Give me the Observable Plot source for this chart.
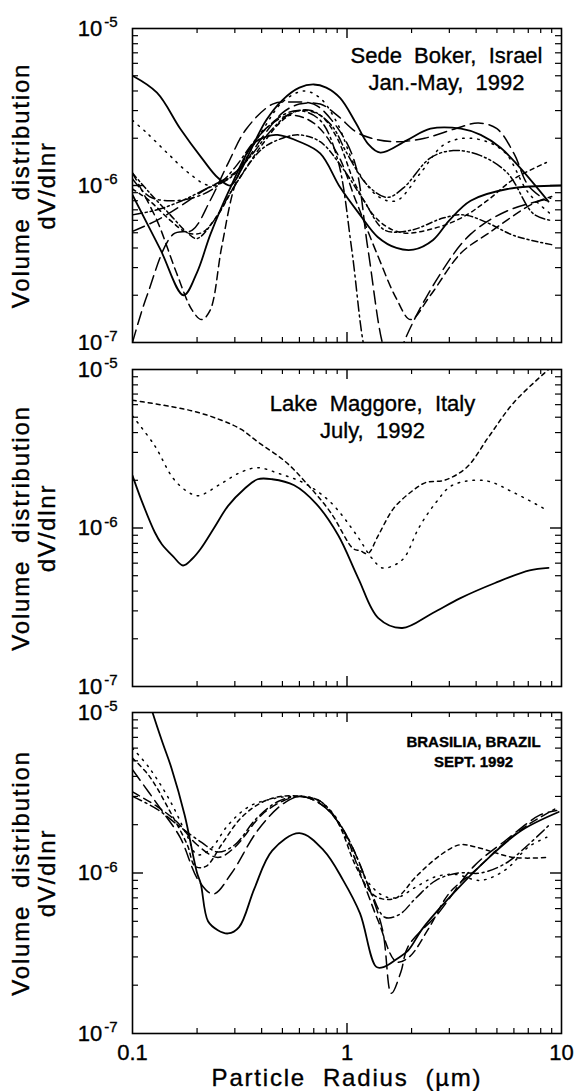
<!DOCTYPE html>
<html><head><meta charset="utf-8">
<script src="https://cdn.jsdelivr.net/npm/d3@7"></script>
<script src="https://cdn.jsdelivr.net/npm/@observablehq/plot@0.6"></script>
<style>
body{margin:0;background:#fff;}
#chart{position:relative;width:577px;height:1091px;}
#chart svg{position:absolute;left:0;overflow:visible;}
#chart svg text{white-space:pre;stroke:black;stroke-width:0.35px;}
</style></head><body><div id="chart"></div>
<script>
// ---------- axis values ----------
const xLabelTicks = [0.1, 1, 10];
const xMinorTicks = [0.2,0.3,0.4,0.5,0.6,0.7,0.8,0.9,2,3,4,5,6,7,8,9];
const xMajorTicks = [1];
const yLabelTicks = [1e-7, 1e-6, 1e-5];
const yMinorTicks = [2e-7,3e-7,4e-7,5e-7,6e-7,7e-7,8e-7,9e-7,2e-6,3e-6,4e-6,5e-6,6e-6,7e-6,8e-6,9e-6];
const yMajorTicks = [1e-6];

// ---------- Panel 1: Sede Boker, Israel (radius µm, dV/dlnr) ----------
const sede1 = [[0.1,5.0e-6],[0.13,3.9e-6],[0.167,2.3e-6],[0.21,1.5e-6],[0.25,1.12e-6],[0.286,1.0e-6],[0.32,1.25e-6],[0.355,1.67e-6],[0.42,2.6e-6],[0.5,3.5e-6],[0.6,4.2e-6],[0.7,4.4e-6],[0.8,4.2e-6],[0.93,3.6e-6],[1.1,2.5e-6],[1.25,1.85e-6],[1.43,1.62e-6],[1.9,1.94e-6],[2.45,2.3e-6],[3.4,2.3e-6],[4.2,2.1e-6],[5.2,1.74e-6],[6.4,1.3e-6],[8.7,7.9e-7]];
const sede2 = [[0.1,8.7e-7],[0.135,3.9e-7],[0.173,2.0e-7],[0.2,2.8e-7],[0.231,4.9e-7],[0.286,9.7e-7],[0.366,1.85e-6],[0.42,2.05e-6],[0.475,2.1e-6],[0.6,1.9e-6],[0.75,1.6e-6],[0.93,9.7e-7],[1.15,6.5e-7],[1.39,4.7e-7],[1.7,4.0e-7],[2.04,3.9e-7],[2.52,4.5e-7],[3.0,6.0e-7],[3.77,8.0e-7],[5.6,9.5e-7],[10,1.0e-6]];
const sede3 = [[0.1,1.0e-7],[0.117,2.0e-7],[0.155,4.9e-7],[0.19,5.2e-7],[0.23,8.0e-7],[0.28,1.4e-6],[0.34,2.3e-6],[0.45,3.3e-6],[0.55,3.4e-6],[0.7,3.3e-6],[0.85,2.6e-6],[1.07,1.5e-6],[1.25,4.0e-7],[1.46,1.0e-7],[1.65,6.0e-8],[1.84,1.0e-7],[2.66,2.6e-7],[3.77,4.9e-7],[5.6,6.9e-7],[8.9,8.3e-7]];
const sede4 = [[0.1,1.1e-6],[0.12,8.5e-7],[0.15,8.0e-7],[0.2,8.5e-7],[0.25,1.0e-6],[0.3,1.3e-6],[0.38,2.0e-6],[0.5,2.8e-6],[0.6,3.0e-6],[0.75,2.6e-6],[0.9,1.5e-6],[1.05,4.0e-7],[1.19,1.0e-7],[1.3,6.0e-8]];
const sede5 = [[0.1,1.2e-6],[0.13,6.0e-7],[0.16,2.8e-7],[0.19,1.6e-7],[0.21,1.4e-7],[0.23,1.6e-7],[0.26,4.0e-7],[0.3,1.0e-6],[0.36,1.8e-6],[0.45,2.5e-6],[0.55,2.8e-6],[0.7,2.5e-6],[0.9,1.6e-6],[1.1,8.0e-7],[1.4,3.5e-7],[1.7,1.9e-7],[1.98,1.4e-7],[2.45,2.0e-7],[3.39,3.7e-7],[4.5,4.9e-7],[7.4,7.7e-7],[9,8.5e-7]];
const sede6 = [[0.1,2.6e-6],[0.115,2.2e-6],[0.146,1.6e-6],[0.183,1.2e-6],[0.23,1.0e-6],[0.3,1.2e-6],[0.4,2.2e-6],[0.5,3.4e-6],[0.63,4.0e-6],[0.75,3.6e-6],[0.9,2.5e-6],[1.1,1.3e-6],[1.4,8.5e-7],[1.7,8.0e-7],[2.2,1.2e-6],[2.8,1.8e-6],[3.5,2.0e-6],[4.5,1.9e-6],[5.5,1.6e-6],[7,9.0e-7],[9,6.5e-7]];
const sede7 = [[0.1,9.5e-7],[0.12,8.0e-7],[0.15,6.0e-7],[0.18,5.0e-7],[0.21,5.0e-7],[0.25,6.5e-7],[0.3,1.0e-6],[0.4,1.8e-6],[0.5,2.6e-6],[0.6,3.0e-6],[0.75,2.8e-6],[0.9,2.0e-6],[1.1,1.0e-6],[1.4,6.0e-7],[1.8,5.0e-7],[2.5,5.3e-7],[3.4,6.2e-7],[4.5,8.0e-7],[6,1.1e-6],[8.5,1.4e-6]];
const sede8 = [[0.1,6.5e-7],[0.13,7.0e-7],[0.17,8.0e-7],[0.22,9.5e-7],[0.28,1.1e-6],[0.35,1.5e-6],[0.45,2.3e-6],[0.55,2.9e-6],[0.68,3.0e-6],[0.85,2.4e-6],[1.0,1.6e-6],[1.25,1.0e-6],[1.54,8.4e-7],[1.84,9.7e-7],[2.45,1.5e-6],[3.13,1.67e-6],[4.2,1.55e-6],[5.6,1.2e-6],[7.4,6.6e-7],[8.9,6.0e-7]];
const sede9 = [[0.1,5.1e-7],[0.13,6.0e-7],[0.17,7.5e-7],[0.22,9.5e-7],[0.27,1.1e-6],[0.32,1.3e-6],[0.4,2.0e-6],[0.5,2.9e-6],[0.6,3.3e-6],[0.75,3.3e-6],[0.9,2.8e-6],[1.1,2.2e-6],[1.3,2.0e-6],[1.7,1.9e-6],[2.3,2.0e-6],[3.2,2.3e-6],[4.1,2.5e-6],[5,2.3e-6],[6,1.6e-6],[7,1.0e-6],[8.5,8.0e-7]];
const sede10 = [[0.1,1.2e-6],[0.12,9.0e-7],[0.15,6.5e-7],[0.18,5.0e-7],[0.2,4.6e-7],[0.24,6.0e-7],[0.3,1.0e-6],[0.4,1.7e-6],[0.5,2.0e-6],[0.6,2.1e-6],[0.75,1.9e-6],[0.95,1.3e-6],[1.2,8.0e-7],[1.5,5.2e-7],[2,5.2e-7],[2.8,6.2e-7],[3.5,6.5e-7],[4.5,5.8e-7],[6,4.8e-7],[9,4.2e-7]];

// ---------- Panel 2: Lake Maggore, Italy ----------
const maggSolid = [[0.1,2.14e-6],[0.11,1.5e-6],[0.127,9.4e-7],[0.137,7.9e-7],[0.155,6.6e-7],[0.172,5.8e-7],[0.19,6.4e-7],[0.208,7.4e-7],[0.24,1.0e-6],[0.279,1.38e-6],[0.33,1.75e-6],[0.383,2.03e-6],[0.448,2.03e-6],[0.567,1.86e-6],[0.719,1.42e-6],[0.91,9.0e-7],[1.13,4.8e-7],[1.4,2.7e-7],[1.81,2.34e-7],[2.5,2.9e-7],[3.36,3.6e-7],[4.9,4.5e-7],[7.1,5.4e-7],[8.7,5.6e-7]];
const maggDash = [[0.1,6.4e-6],[0.188,5.5e-6],[0.258,4.8e-6],[0.32,4.2e-6],[0.383,3.5e-6],[0.52,2.6e-6],[0.66,1.86e-6],[0.84,1.25e-6],[1.07,7.4e-7],[1.15,7.2e-7],[1.25,6.9e-7],[1.4,9.0e-7],[1.65,1.33e-6],[2.0,1.7e-6],[2.34,1.94e-6],[2.84,2.0e-6],[3.6,2.4e-6],[4.6,3.8e-6],[6.0,6.2e-6],[8.7,1.0e-5]];
const maggDot = [[0.1,5.1e-6],[0.127,3.3e-6],[0.155,2.05e-6],[0.18,1.7e-6],[0.203,1.6e-6],[0.258,1.9e-6],[0.32,2.25e-6],[0.383,2.4e-6],[0.485,2.2e-6],[0.64,1.9e-6],[0.84,1.45e-6],[1.11,9.0e-7],[1.3,6.5e-7],[1.46,5.6e-7],[1.65,5.8e-7],[1.85,6.5e-7],[2.16,1.0e-6],[2.6,1.45e-6],[3.1,1.86e-6],[4.4,1.99e-6],[6.0,1.67e-6],[8.6,1.29e-6]];

// ---------- Panel 3: Brasilia, Brazil ----------
const brasSolid = [[0.1,2.2e-5],[0.115,1.4e-5],[0.124,1.0e-5],[0.138,6.5e-6],[0.152,4.5e-6],[0.175,2.3e-6],[0.2,1.0e-6],[0.208,8.6e-7],[0.225,5.0e-7],[0.25,4.4e-7],[0.279,4.2e-7],[0.314,4.6e-7],[0.37,8.0e-7],[0.448,1.38e-6],[0.6,1.77e-6],[0.78,1.38e-6],[0.96,9.0e-7],[1.15,5.6e-7],[1.37,2.6e-7],[1.49,2.6e-7],[1.7,2.9e-7],[1.93,3.3e-7],[2.25,4.5e-7],[3.2,7.7e-7],[4.6,1.25e-6],[6.5,1.84e-6],[9.7,2.4e-6]];
const brasLong1 = [[0.1,4.4e-6],[0.137,2.45e-6],[0.167,1.66e-6],[0.203,9.0e-7],[0.238,7.4e-7],[0.29,1.0e-6],[0.383,1.84e-6],[0.504,2.7e-6],[0.61,3.0e-6],[0.78,2.6e-6],[0.98,1.77e-6],[1.19,1.0e-6],[1.46,4.5e-7],[1.61,1.78e-7],[1.78,2.4e-7],[1.93,3.5e-7],[2.66,5.6e-7],[3.9,1.1e-6],[5.5,1.6e-6],[7.95,2.3e-6],[9.5,2.45e-6]];
const brasLong2 = [[0.1,3.2e-6],[0.13,2.6e-6],[0.16,2.1e-6],[0.2,1.5e-6],[0.25,1.25e-6],[0.3,1.45e-6],[0.4,2.3e-6],[0.5,2.8e-6],[0.62,3.0e-6],[0.78,2.6e-6],[0.95,1.9e-6],[1.15,1.0e-6],[1.4,5.0e-7],[1.7,2.8e-7],[1.95,3.0e-7],[2.4,4.5e-7],[3.0,7.5e-7],[4,1.05e-6],[5.3,1.5e-6],[7,2.0e-6],[9.3,2.5e-6]];
const brasShort = [[0.1,5.2e-6],[0.12,4.0e-6],[0.15,2.4e-6],[0.18,1.5e-6],[0.196,1.1e-6],[0.22,1.1e-6],[0.26,1.5e-6],[0.32,2.2e-6],[0.4,2.75e-6],[0.49,3.0e-6],[0.62,3.0e-6],[0.75,2.8e-6],[0.9,2.1e-6],[1.1,1.1e-6],[1.3,7.5e-7],[1.46,6.9e-7],[1.7,7.0e-7],[2.1,9.5e-7],[2.74,1.3e-6],[3.36,1.5e-6],[4.0,1.45e-6],[6.0,1.25e-6],[8.6,1.25e-6]];
const brasDot = [[0.1,6.0e-6],[0.12,4.5e-6],[0.15,2.8e-6],[0.18,1.7e-6],[0.2,1.3e-6],[0.23,1.4e-6],[0.28,2.0e-6],[0.35,2.6e-6],[0.45,2.9e-6],[0.55,3.0e-6],[0.68,2.9e-6],[0.85,2.4e-6],[1.0,1.6e-6],[1.2,9.5e-7],[1.45,7.3e-7],[1.7,7.0e-7],[2.1,8.2e-7],[2.6,9.5e-7],[3.2,9.8e-7],[4.2,9.0e-7],[5.5,1.05e-6],[7,1.45e-6],[8.8,1.7e-6]];
const brasDashDot = [[0.1,3.0e-6],[0.13,2.5e-6],[0.17,1.9e-6],[0.21,1.55e-6],[0.25,1.35e-6],[0.3,1.5e-6],[0.38,2.2e-6],[0.48,2.8e-6],[0.6,3.0e-6],[0.75,2.8e-6],[0.93,2.0e-6],[1.1,1.3e-6],[1.3,7.5e-7],[1.5,5.3e-7],[1.75,5.5e-7],[2.1,7.0e-7],[2.6,9.0e-7],[3.3,1.0e-6],[4.2,1.0e-6],[5.5,1.15e-6],[7,1.5e-6],[8.8,2.0e-6]];

// ---------- text ----------
const yTitle1 = "Volume  distribution";
const yTitle2 = "dV/dlnr";
const xTitle = "Particle  Radius  (\u00b5m)";

// ---------- line styles ----------
const SOLID = null, LONG = "13,6", DASH = "8,5", SHORT = "4,4", DOT = "1.5,6",
      DASHDOT = "10,4,2,4", DASHDOTDOT = "10,3,2,3,2,3", DASHDOT2 = "6,3,2,3";

const FONT = "'Liberation Sans', Arial, Helvetica, sans-serif";
const W = 577, ML = 132, MR = 16;

const panels = [
  {top: 0, height: 350, mt: 28, mb: 8, xaxis: false,
   title: [{t: "Sede  Boker,  Israel", x: 446, y: 55, fs: 22, fw: "normal"}, {t: "Jan.-May,  1992", x: 446, y: 82, fs: 22, fw: "normal"}],
   curves: [[sede1, SOLID], [sede2, SOLID], [sede3, LONG], [sede4, DASHDOT], [sede5, DASH], [sede6, DOT], [sede7, SHORT], [sede8, DASHDOTDOT], [sede9, LONG], [sede10, DASHDOT2]]},
  {top: 350, height: 345, mt: 19, mb: 9, xaxis: false,
   title: [{t: "Lake  Maggore,  Italy", x: 372, y: 403, fs: 22, fw: "normal"}, {t: "July,  1992", x: 372, y: 430, fs: 22, fw: "normal"}],
   curves: [[maggSolid, SOLID], [maggDash, SHORT], [maggDot, DOT]]},
  {top: 695, height: 396, mt: 17, mb: 58, xaxis: true,
   title: [{t: "BRASILIA, BRAZIL", x: 473, y: 742, fs: 15, fw: "bold"}, {t: "SEPT. 1992", x: 473, y: 762, fs: 15, fw: "bold"}],
   curves: [[brasSolid, SOLID], [brasLong1, LONG], [brasLong2, DASH], [brasShort, SHORT], [brasDot, DOT], [brasDashDot, DASHDOT]]}
];

const chart = document.getElementById("chart");
for (const p of panels) {
  const H = p.height - p.mt - p.mb;
  const PW = W - ML - MR;
  const marks = [];
  for (const [data, dash] of p.curves) {
    marks.push(Plot.line(data, {x: d => d[0], y: d => d[1], curve: "catmull-rom", stroke: "black",
      strokeWidth: dash ? 1.5 : 1.8, strokeDasharray: dash || undefined, clip: true}));
  }
  // inward ticks on all four sides
  marks.push(Plot.tickX(xMinorTicks, {x: d => d, insetTop: H - 5, stroke: "black", strokeWidth: 1.2}));
  marks.push(Plot.tickX(xMinorTicks, {x: d => d, insetBottom: H - 5, stroke: "black", strokeWidth: 1.2}));
  marks.push(Plot.tickX(xMajorTicks, {x: d => d, insetTop: H - 10, stroke: "black", strokeWidth: 1.4}));
  marks.push(Plot.tickX(xMajorTicks, {x: d => d, insetBottom: H - 10, stroke: "black", strokeWidth: 1.4}));
  marks.push(Plot.tickY(yMinorTicks, {y: d => d, insetRight: PW - 6, stroke: "black", strokeWidth: 1.2}));
  marks.push(Plot.tickY(yMinorTicks, {y: d => d, insetLeft: PW - 6, stroke: "black", strokeWidth: 1.2}));
  marks.push(Plot.tickY(yMajorTicks, {y: d => d, insetRight: PW - 11, stroke: "black", strokeWidth: 1.4}));
  marks.push(Plot.tickY(yMajorTicks, {y: d => d, insetLeft: PW - 11, stroke: "black", strokeWidth: 1.4}));
  marks.push(Plot.frame({stroke: "black", strokeWidth: 1.6}));
  // y-axis title (two lines)
  marks.push(Plot.text([yTitle1], {frameAnchor: "left", dx: 21 - ML, rotate: -90, text: d => d, fontSize: 24, textAnchor: "middle", lineAnchor: "middle", fill: "black"}));
  marks.push(Plot.text([yTitle2], {frameAnchor: "left", dx: 47 - ML, rotate: -90, text: d => d, fontSize: 24, textAnchor: "middle", lineAnchor: "middle", fill: "black"}));
  // panel titles
  for (const t of p.title) {
    marks.push(Plot.text([t.t], {frameAnchor: "top-left", dx: t.x - ML, dy: t.y - p.top - p.mt, text: d => d,
      fontSize: t.fs, fontWeight: t.fw, textAnchor: "middle", lineAnchor: "middle", fill: "black"}));
  }
  if (p.xaxis) {
    marks.push(Plot.text([xTitle], {frameAnchor: "bottom", dy: 45, text: d => d, fontSize: 24, textAnchor: "middle", lineAnchor: "middle", fill: "black"}));
  }
  const svg = Plot.plot({
    width: W, height: p.height,
    marginLeft: ML, marginRight: MR, marginTop: p.mt, marginBottom: p.mb,
    style: {fontFamily: FONT, fontSize: "22px", color: "black", background: "white", overflow: "visible"},
    x: {type: "log", domain: [0.1, 10], ...(p.xaxis
      ? {ticks: xLabelTicks, tickFormat: d => d < 1 ? "0.1" : String(d), tickSize: 0, tickPadding: 11, label: null}
      : {axis: null})},
    y: {type: "log", domain: [1e-7, 1e-5], ticks: yLabelTicks, tickFormat: d => String(Math.round(Math.log10(d))), tickSize: 0, tickPadding: 15, label: null},
    marks
  });
  svg.style.top = p.top + "px";
  // letter-spaced axis titles
  d3.select(svg).selectAll("text").filter(function() {
    const s = this.textContent; return s === yTitle1 || s === yTitle2 || s === xTitle;
  }).style("letter-spacing", "1.8px");
  // rebuild y tick labels as 10 with superscript exponent
  d3.select(svg).selectAll('g[aria-label="y-axis tick label"] text').each(function() {
    const e = this.textContent;
    this.textContent = "";
    const s = d3.select(this);
    s.append("tspan").text("10");
    s.append("tspan").attr("font-size", "15px").attr("dy", "-0.55em").attr("dx", "2").text(e);
  });
  chart.appendChild(svg);
}
</script></body></html>
